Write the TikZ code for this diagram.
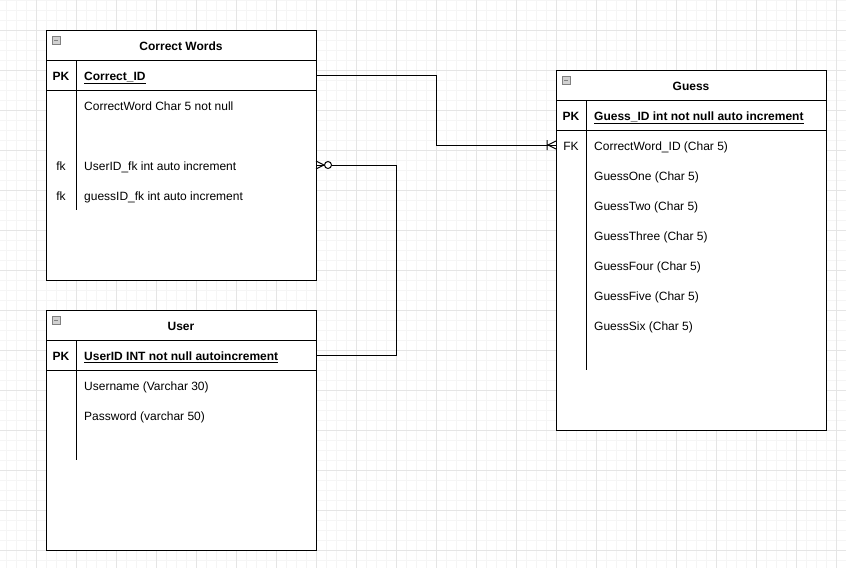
\documentclass[tikz,border=0pt]{standalone}
\usepackage{fontspec}
\setmainfont{Liberation Sans}
\usetikzlibrary{positioning}

\begin{document}
\begin{tikzpicture}[x=1pt,y=-1pt]

\tikzset{table/.style = {draw, fill=white, line width=1pt, minimum width=270pt, anchor=north west, inner sep=0pt, outer sep=0pt}}
\tikzset{row/.style = {draw, line width=1pt, minimum width=270pt, minimum height=30pt, anchor=north west, inner sep=0pt, outer sep=0pt, text height=10.6pt, text depth=0pt, font=\fontsize{12}{14}\selectfont\bfseries}}
\tikzset{key/.style = {inner sep=0pt, text height=10.6pt, text depth=0pt, font=\fontsize{12}{14}\selectfont}}
\tikzset{field/.style = {key, anchor=west}}
\tikzset{icon/.style = {draw=black!50, fill=black!18, line width=0.8pt, minimum size=8pt, inner sep=0pt,
  path picture={\draw[line width=1pt] ([xshift=2pt]path picture bounding box.west) -- ([xshift=-2pt]path picture bounding box.east);}}}
\tikzset{edge/.style = {line width=1pt}}
\tikzset{gridminor/.style = {black!4, line width=1pt}}
\tikzset{gridmajor/.style = {black!10, line width=1pt}}

\useasboundingbox (0,0) rectangle (846,568);
%grid
\foreach \gx in {6,16,...,846} \draw[gridminor] (\gx,0) -- (\gx,568);
\foreach \gy in {0,10,...,568} \draw[gridminor] (0,\gy) -- (846,\gy);
\foreach \gx in {36,76,...,846} \draw[gridmajor] (\gx,0) -- (\gx,568);
\foreach \gy in {30,70,...,568} \draw[gridmajor] (0,\gy) -- (846,\gy);

%correct words
\node[table, minimum height=250pt] (cw) at (46,30) {};
\node[row] (cwhead) at (cw.north west) {Correct Words};
\node[row, below=0pt of cwhead] (cwpk) {};
\node[icon] (cwicon) at ([shift={(10,10)}]cwhead.north west) {};
\draw[edge] ([xshift=30pt]cwpk.north west) -- ++(0,150);
\node[key, font=\fontsize{12}{14}\selectfont\bfseries] (cwkey) at (61,75) {PK};
\node[field, font=\fontsize{12}{14}\selectfont\bfseries] (cwid) at (84,75) {\underline{Correct\_ID}};
\node[field] (cwword) at (84,105) {CorrectWord Char 5 not null};
\node[key] (cwfk1) at (61,165) {fk};
\node[field] (cwuser) at (84,165) {UserID\_fk int auto increment};
\node[key] (cwfk2) at (61,195) {fk};
\node[field] (cwguess) at (84,195) {guessID\_fk int auto increment};

%user
\node[table, minimum height=240pt] (user) at (46,310) {};
\node[row] (userhead) at (user.north west) {User};
\node[row, below=0pt of userhead] (userpk) {};
\node[icon] (usericon) at ([shift={(10,10)}]userhead.north west) {};
\draw[edge] ([xshift=30pt]userpk.north west) -- ++(0,120);
\node[key, font=\fontsize{12}{14}\selectfont\bfseries] (userkey) at (61,355) {PK};
\node[field, font=\fontsize{12}{14}\selectfont\bfseries] (userid) at (84,355) {\underline{UserID INT not null autoincrement}};
\node[field] (username) at (84,385) {Username (Varchar 30)};
\node[field] (userpass) at (84,415) {Password (varchar 50)};

%guess
\node[table, minimum height=360pt] (guess) at (556,70) {};
\node[row] (ghead) at (guess.north west) {Guess};
\node[row, below=0pt of ghead] (gpk) {};
\node[icon] (gicon) at ([shift={(10,10)}]ghead.north west) {};
\draw[edge] ([xshift=30pt]gpk.north west) -- ++(0,270);
\node[key, font=\fontsize{12}{14}\selectfont\bfseries] (gkey) at (571,115) {PK};
\node[field, font=\fontsize{12}{14}\selectfont\bfseries] (gid) at (594,115) {\underline{Guess\_ID int not null auto increment}};
\node[key] (gfk) at (571,145) {FK};
\node[field] (gword) at (594,145) {CorrectWord\_ID (Char 5)};
\node[field] (gone) at (594,175) {GuessOne (Char 5)};
\node[field] (gtwo) at (594,205) {GuessTwo (Char 5)};
\node[field] (gthree) at (594,235) {GuessThree (Char 5)};
\node[field] (gfour) at (594,265) {GuessFour (Char 5)};
\node[field] (gfive) at (594,295) {GuessFive (Char 5)};
\node[field] (gsix) at (594,325) {GuessSix (Char 5)};

%edges
\coordinate (gend) at (guess.west |- gfk);
\coordinate (cwend) at (cw.east |- cwfk1);
\draw[edge] (cwpk.east) -- ++(120,0) |- (gend);
\draw[edge] (gend) ++(-8,0) -- ++(8,-4) (gend) ++(-8,0) -- ++(8,4) (gend) ++(-9,-5) -- ++(0,10);
\draw[edge] (userpk.east) -- ++(80,0) |- (cwend);
\draw[edge] (cwend) ++(8,0) -- ++(-8,-4) (cwend) ++(8,0) -- ++(-8,4);
\draw[edge, fill=white] ([xshift=12pt]cwend) circle[radius=3.5pt];

\end{tikzpicture}
\end{document}
